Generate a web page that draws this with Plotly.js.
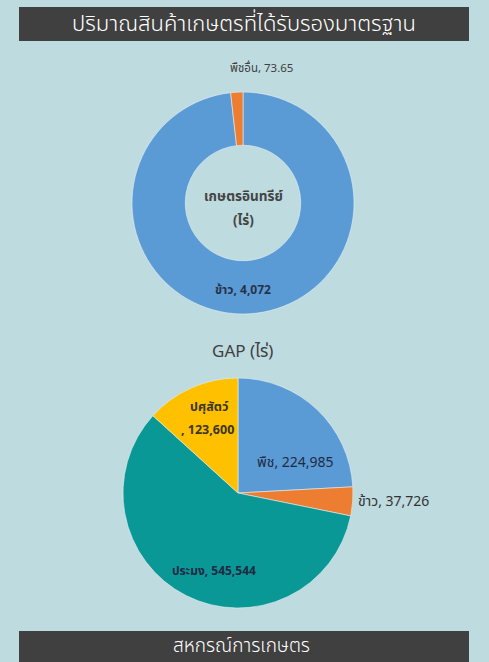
<!DOCTYPE html>
<html>
<head>
<meta charset="utf-8">
<script src="https://cdn.plot.ly/plotly-3.0.1.min.js"></script>
<style>
html,body{margin:0;padding:0;background:#bedbe0;}
#chart{width:489px;height:662px;}
</style>
</head>
<body>
<div id="chart"></div>
<script>
// ---- data ----
var pageTitle = "ปริมาณสินค้าเกษตรที่ได้รับรองมาตรฐาน";
var footerTitle = "สหกรณ์การเกษตร";

var organicLabels = ["ข้าว", "พืชอื่น"];
var organicValues = [4072, 73.65];
var organicText = ["ข้าว, 4,072", "พืชอื่น, 73.65"];
var organicCenter = ["เกษตรอินทรีย์", "(ไร่)"];

var gapTitle = "GAP (ไร่)";
var gapLabels = ["พืช", "ข้าว", "ประมง", "ปศุสัตว์"];
var gapValues = [224985, 37726, 545544, 123600];
var gapText = ["พืช, 224,985", "ข้าว, 37,726", "ประมง, 545,544", "ปศุสัตว์"];
var gapText2 = ["", "", "", ", 123,600"];

// ---- styles ----
var W = 489, H = 662;
var thaiFont = "Tahoma, 'Noto Sans Thai', 'Noto Sans', 'DejaVu Sans', sans-serif";
var bg = "#bedbe0";
function px(x){return x/W;}
function py(y){return 1 - y/H;}

var donut = {
  type: "pie",
  labels: organicLabels,
  values: organicValues,
  textinfo: "none",
  hole: 0.52,
  sort: false,
  direction: "clockwise",
  rotation: 0,
  domain: {x: [px(243-111), px(243+111)], y: [py(203+111), py(203-111)]},
  marker: {colors: ["#5b9bd5", "#ed7d31"], line: {color: "#e6f0f2", width: 0.6}},
  showlegend: false,
  automargin: false
};

var pie = {
  type: "pie",
  labels: gapLabels,
  values: gapValues,
  text: gapText,
  textinfo: "text",
  sort: false,
  direction: "clockwise",
  rotation: 0,
  domain: {x: [px(238-115), px(238+115)], y: [py(493+115), py(493-115)]},
  marker: {colors: ["#5b9bd5", "#ed7d31", "#0a9896", "#ffc000"], line: {color: "#e6f0f2", width: 0.6}},
  textposition: ["none", "outside", "none", "none"],
  textfont: {family: thaiFont, size: 14, color: "#333333"},
  showlegend: false,
  automargin: false
};

function ann(text, x, y, size, color, weight) {
  return {text: text, xref: "paper", yref: "paper", x: px(x), y: py(y), xanchor: "center", yanchor: "middle",
          showarrow: false, font: {family: thaiFont, size: size, color: color, weight: weight || "normal"}};
}

var layout = {
  width: W, height: H,
  margin: {l: 0, r: 0, t: 0, b: 0},
  paper_bgcolor: bg,
  plot_bgcolor: bg,
  showlegend: false,
  shapes: [
    {type: "rect", xref: "paper", yref: "paper", x0: px(19), x1: px(469), y0: py(41), y1: py(7), fillcolor: "#404040", line: {width: 0}, layer: "below"},
    {type: "rect", xref: "paper", yref: "paper", x0: px(19), x1: px(469), y0: py(680), y1: py(631), fillcolor: "#404040", line: {width: 0}, layer: "below"}
  ],
  annotations: [
    ann(pageTitle, 244, 25, 22, "#ffffff", 300),
    ann(footerTitle, 241, 646, 19, "#ffffff", 300),
    ann(organicCenter[0], 243, 197, 13.5, "#444444", "bold"),
    ann(organicCenter[1], 243, 221, 13.5, "#444444", "bold"),
    ann(organicText[1], 261, 68, 11.5, "#404040"),
    ann(organicText[0], 243, 290, 12, "#26324a", "bold"),
    ann(gapTitle, 242, 352, 17, "#404040"),
    ann(gapText[0], 295, 462, 14, "#1f2a44"),
    ann(gapText[3], 209, 407, 12.5, "#3a3520", "bold"),
    ann(gapText2[3], 207, 430, 12.5, "#3a3520", "bold"),
    ann(gapText[2], 214, 571, 12, "#1f2a44", "bold")
  ]
};

Plotly.newPlot("chart", [donut, pie], layout, {staticPlot: true, displayModeBar: false});
</script>
</body>
</html>
